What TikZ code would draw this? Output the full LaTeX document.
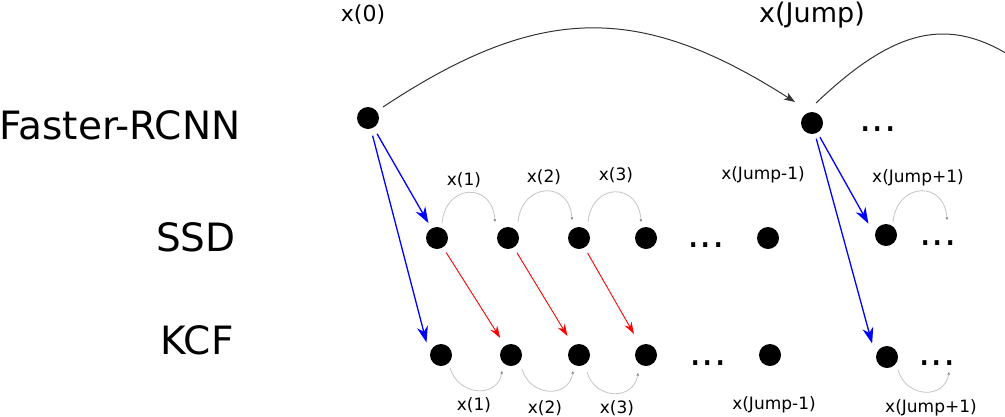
\documentclass[tikz,border=0pt]{standalone}
\usepackage{fontspec}
\setmainfont{DejaVu Sans}
\usetikzlibrary{arrows.meta}
\definecolor{arcgray}{HTML}{C4C4C4}
\definecolor{arctip}{HTML}{777777}
\definecolor{jumpgray}{HTML}{333333}
\begin{document}
\begin{tikzpicture}[x=1pt,y=-1pt,
  blob/.style={circle,fill=black,minimum size=22pt,inner sep=0pt},
  rowlabel/.style={font=\fontsize{39}{44}\selectfont,inner sep=0pt},
  toplabel/.style={inner sep=0pt},
  small/.style={font=\fontsize{17}{19}\selectfont,inner sep=0pt},
  ellip/.style={font=\fontsize{39}{44}\selectfont,anchor=base,inner sep=0pt},
  bluearr/.style={draw=blue,line width=1.3pt,-{Stealth[length=16pt,width=11pt,inset=5pt]}},
  redarr/.style={draw=red,line width=0.9pt,-{Stealth[length=12pt,width=8pt,inset=4pt]}},
  jumparc/.style={draw=jumpgray,line width=1pt,-{Stealth[length=11pt,width=8pt,inset=3pt]}},
  smallarc/.style={draw=arcgray,line width=0.8pt,-{Stealth[length=3pt,width=2.5pt,color=arctip]}}
]
\useasboundingbox (0,0) rectangle (1005,416);
\clip (0,0) rectangle (1005,416);

% row labels
\node[rowlabel] (lfr) at (120,125) {Faster-RCNN};
\node[rowlabel] (lssd) at (196,237) {SSD};
\node[rowlabel] (lkcf) at (197,340) {KCF};

% top labels
\node[toplabel,font=\fontsize{22}{26}\selectfont] (lx0) at (363,15) {x(0)};
\node[toplabel,font=\fontsize{27}{31}\selectfont] (lxj) at (812,15) {x(Jump)};

% nodes
\node[blob] (a0) at (368,118) {};
\node[blob] (a1) at (812,123) {};
\node[blob] (s1) at (437,238) {};
\node[blob] (s2) at (508,238) {};
\node[blob] (s3) at (579,238) {};
\node[blob] (s4) at (646,238) {};
\node[blob] (s5) at (768,238) {};
\node[blob] (s6) at (886,235) {};
\node[blob] (k1) at (441,355) {};
\node[blob] (k2) at (511,355) {};
\node[blob] (k3) at (579,355) {};
\node[blob] (k4) at (646,355) {};
\node[blob] (k5) at (770,355) {};
\node[blob] (k6) at (887,357) {};

% ellipses
\node[ellip] (d0) at (878,131) {...};
\node[ellip] (d1) at (706,247) {...};
\node[ellip] (d2) at (938,245) {...};
\node[ellip] (d3) at (708,365) {...};
\node[ellip] (d4) at (937,365) {...};

% small labels
\node[small] (ts1) at (464,180) {x(1)};
\node[small] (ts2) at (544,177) {x(2)};
\node[small] (ts3) at (616,175) {x(3)};
\node[small] (ts4) at (763,175) {x(Jump-1)};
\node[small] (ts5) at (918,178) {x(Jump+1)};
\node[small] (bk1) at (474,405) {x(1)};
\node[small] (bk2) at (545,408) {x(2)};
\node[small] (bk3) at (617,408) {x(3)};
\node[small] (bk4) at (774,405) {x(Jump-1)};
\node[small] (bk5) at (931,408) {x(Jump+1)};

% free ends
\coordinate (jnext) at (1069,103);
\coordinate (send) at (947,220);
\coordinate (kend) at (949,372);

% big jump arcs
\draw[jumparc] ([shift={(15,-11)}]a0.center) .. controls (540,3) and (640,3) .. ([shift={(-17,-21)}]a1.center);
\draw[draw=jumpgray,line width=1pt] ([shift={(4,-20)}]a1.center) .. controls (913,11) and (973,11) .. (jnext);

% small arcs SSD
\draw[smallarc] ([shift={(5,-15)}]s1.center) .. controls +(4,-40) and +(-2,-40) .. ([shift={(-13,-16)}]s2.center);
\draw[smallarc] ([shift={(10,-16)}]s2.center) .. controls +(4,-40) and +(-2,-40) .. ([shift={(-7,-18)}]s3.center);
\draw[smallarc] ([shift={(9,-16)}]s3.center) .. controls +(4,-40) and +(-2,-40) .. ([shift={(-5,-16)}]s4.center);
\draw[smallarc] ([shift={(7,-13)}]s6.center) .. controls +(4,-40) and +(-2,-40) .. (send);

% small arcs KCF
\draw[smallarc] ([shift={(9,13)}]k1.center) .. controls +(8,28) and +(-4,28) .. ([shift={(-9,16)}]k2.center);
\draw[smallarc] ([shift={(11,14)}]k2.center) .. controls +(8,28) and +(-4,28) .. ([shift={(-6,16)}]k3.center);
\draw[smallarc] ([shift={(8,17)}]k3.center) .. controls +(8,28) and +(-4,28) .. ([shift={(-8,18)}]k4.center);
\draw[smallarc] ([shift={(11,13)}]k6.center) .. controls +(8,28) and +(-4,28) .. (kend);

% blue arrows
\draw[bluearr,shorten <=7pt,shorten >=6pt] (a0) -- (s1);
\draw[bluearr,shorten <=7pt,shorten >=13pt] (a0) -- (k1.west);
\draw[bluearr,shorten <=5pt,shorten >=13pt] (a1) -- (s6.west);
\draw[bluearr,shorten <=5pt,shorten >=14pt] (a1) -- (k6.west);

% red arrows
\draw[redarr,shorten <=6pt,shorten >=9pt] (s1) -- (k2);
\draw[redarr,shorten <=6pt,shorten >=11pt] (s2) -- (k3);
\draw[redarr,shorten <=6pt,shorten >=13pt] (s3) -- (k4);
\end{tikzpicture}
\end{document}
